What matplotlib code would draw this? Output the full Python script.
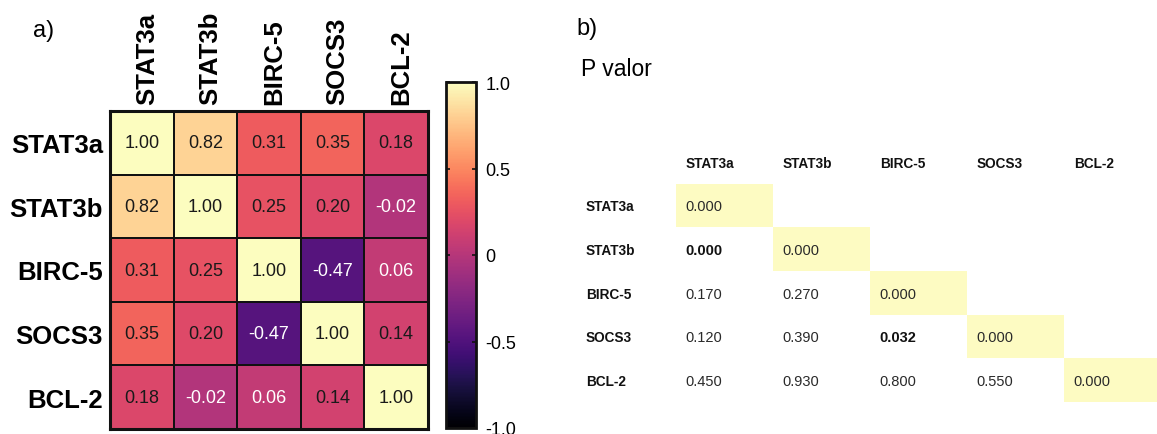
import numpy as np
import matplotlib
matplotlib.use("Agg")
import matplotlib.pyplot as plt
from matplotlib.patches import Rectangle
from matplotlib.colors import Normalize
from matplotlib.transforms import ScaledTranslation

plt.rcParams['font.family'] = ['Liberation Sans', 'DejaVu Sans']

genes = ["STAT3a", "STAT3b", "BIRC-5", "SOCS3", "BCL-2"]
corr = np.array([
    [1.00, 0.82, 0.31, 0.35, 0.18],
    [0.82, 1.00, 0.25, 0.20, -0.02],
    [0.31, 0.25, 1.00, -0.47, 0.06],
    [0.35, 0.20, -0.47, 1.00, 0.14],
    [0.18, -0.02, 0.06, 0.14, 1.00],
])
# lower-triangular p-values (NaN = empty cell)
pvals = np.array([
    [0.000, np.nan, np.nan, np.nan, np.nan],
    [0.000, 0.000, np.nan, np.nan, np.nan],
    [0.170, 0.270, 0.000, np.nan, np.nan],
    [0.120, 0.390, 0.032, 0.000, np.nan],
    [0.450, 0.930, 0.800, 0.550, 0.000],
])
cbar_ticks = [1.0, 0.5, 0.0, -0.5, -1.0]
cbar_labels = ["1.0", "0.5", "0", "-0.5", "-1.0"]

W, H = 1157, 435
fig = plt.figure(figsize=(W / 100, H / 100), dpi=100)

def px_axes(x0, y0, x1, y1):
    return fig.add_axes([x0 / W, 1 - y1 / H, (x1 - x0) / W, (y1 - y0) / H])

# ---------------- a) heatmap ----------------
ax = px_axes(110, 112, 428, 430)
norm = Normalize(vmin=-1, vmax=1)
cmap = plt.get_cmap("magma")
n = len(genes)
mesh = ax.pcolormesh(np.arange(n + 1), np.arange(n + 1), corr, cmap=cmap, norm=norm,
                     edgecolors="#111111", linewidth=1.3)
ax.set_xlim(0, n)
ax.set_ylim(n, 0)
for i in range(n):
    for j in range(n):
        v = corr[i, j]
        txt = f"{v:.2f}"
        col = "white" if v < 0.1 else "#1a1a1a"
        ax.text(j + 0.5, i + 0.5, txt, ha="center", va="center", fontsize=13, color=col)
ax.xaxis.tick_top()
ax.set_xticks(np.arange(n) + 0.5)
ax.set_xticklabels(genes, rotation=90, fontsize=18.5, fontweight="bold")
ax.set_yticks(np.arange(n) + 0.5)
ax.set_yticklabels(genes, fontsize=18.5, fontweight="bold")
ax.tick_params(length=0, pad=5)
shift = ScaledTranslation(5 / 100, 0, fig.dpi_scale_trans)
for lab in ax.get_xticklabels():
    lab.set_transform(lab.get_transform() + shift)
for s in ax.spines.values():
    s.set_linewidth(2.2)
    s.set_color("#111111")

# colorbar
cax = px_axes(446, 83, 476, 429)
cb = fig.colorbar(mesh, cax=cax)
cb.set_ticks(cbar_ticks)
cb.set_ticklabels(cbar_labels)
cb.outline.set_linewidth(2)
cb.outline.set_edgecolor("#111111")
cax.tick_params(direction="in", length=3, width=1.2, labelsize=13, pad=7,
                left=True, right=True, labelleft=False, labelright=True, color="#111111")

fig.text(33 / W, 1 - 31 / H, "a)", fontsize=17, va="center", ha="left")

# ---------------- b) p-value table ----------------
fig.text(576 / W, 1 - 29 / H, "b)", fontsize=17, va="center", ha="left")
fig.text(581 / W, 1 - 70 / H, "P valor", fontsize=16.5, va="center", ha="left")

tax = px_axes(579, 141, 579 + 6 * 97, 403)
tax.set_xlim(0, n + 1)
tax.set_ylim(n + 1, 0)
tax.axis("off")
yellow = "#FDFBC2"
for j, g in enumerate(genes):
    tax.text(j + 1 + 0.1, 0.52, g, ha="left", va="center", fontsize=9.8,
             fontweight="bold", color="#111111")
for i, g in enumerate(genes):
    tax.text(0.07, i + 1.52, g, ha="left", va="center", fontsize=9.8,
             fontweight="bold", color="#111111")
    for j in range(n):
        p = pvals[i, j]
        if np.isnan(p):
            continue
        if i == j:
            tax.add_patch(Rectangle((j + 1, i + 1), 1, 1, facecolor=yellow,
                                    edgecolor="none", clip_on=False))
        bold = (i != j) and p < 0.05
        tax.text(j + 1 + 0.1, i + 1.52, f"{p:.3f}", ha="left", va="center",
                 fontsize=10.5, fontweight="bold" if bold else "normal",
                 color="#111111" if bold else "#2a2a2a")

fig.savefig("out.png", dpi=100)
